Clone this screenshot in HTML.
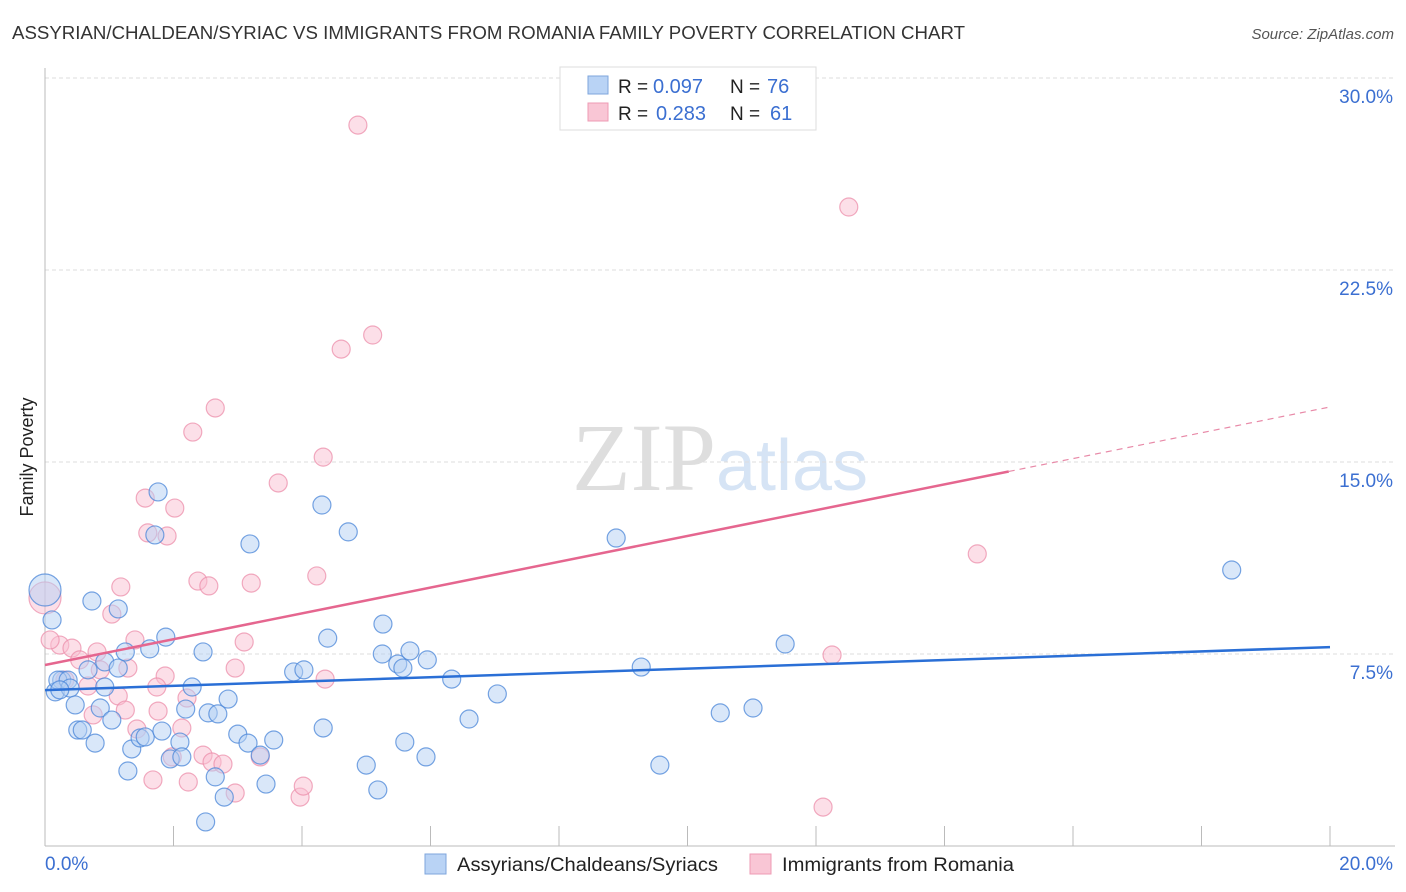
<!DOCTYPE html>
<html><head><meta charset="utf-8"><style>
body{margin:0;background:#fff;width:1406px;height:892px;overflow:hidden;font-family:"Liberation Sans",sans-serif}
svg{display:block}
</style></head><body>
<svg id="chart" width="1406" height="892">
<text x="12" y="39" font-size="18" fill="#333" textLength="953" lengthAdjust="spacingAndGlyphs">ASSYRIAN/CHALDEAN/SYRIAC VS IMMIGRANTS FROM ROMANIA FAMILY POVERTY CORRELATION CHART</text>
<text x="1394" y="39" font-size="15" fill="#555" font-style="italic" text-anchor="end">Source: ZipAtlas.com</text>
<text x="33" y="457" font-size="18" fill="#222" text-anchor="middle" transform="rotate(-90 33 457)">Family Poverty</text>
<text x="720" y="490" font-size="96" fill="#e6e6e6" text-anchor="middle" font-family="Liberation Serif,serif"><tspan fill="#dedede">ZIP</tspan><tspan fill="#d6e4f5" font-family="Liberation Sans,sans-serif" font-size="72">atlas</tspan></text>
<g id="grid"></g><g id="pts"></g><g id="lines"></g>
<g>
<rect x="560" y="67" width="256" height="63" fill="#fff" stroke="#ddd"/>
<rect x="588" y="76" width="20" height="18" fill="#b9d3f5" stroke="#7ea6dc"/>
<rect x="588" y="103" width="20" height="18" fill="#f9c6d5" stroke="#ee9bb4"/>
<text x="618" y="93" font-size="19" fill="#222">R =</text>
<text x="653" y="93" font-size="20" fill="#3b6fd1">0.097</text>
<text x="730" y="93" font-size="19" fill="#222">N =</text>
<text x="767" y="93" font-size="20" fill="#3b6fd1">76</text>
<text x="618" y="120" font-size="19" fill="#222">R =</text>
<text x="656" y="120" font-size="20" fill="#3b6fd1">0.283</text>
<text x="730" y="120" font-size="19" fill="#222">N =</text>
<text x="770" y="120" font-size="20" fill="#3b6fd1">61</text>
</g>
<g>
<rect x="425" y="854" width="21" height="20" fill="#b9d3f5" stroke="#7ea6dc"/>
<text x="457" y="871" font-size="19" fill="#222" textLength="261" lengthAdjust="spacingAndGlyphs">Assyrians/Chaldeans/Syriacs</text>
<rect x="750" y="854" width="21" height="20" fill="#f9c6d5" stroke="#ee9bb4"/>
<text x="782" y="871" font-size="19" fill="#222" textLength="232" lengthAdjust="spacingAndGlyphs">Immigrants from Romania</text>
</g>
</svg>
<script>
const yTicks=[7.5,15,22.5,30];
const yTickLabels=["7.5%","15.0%","22.5%","30.0%"];
const xTicks=[0,2,4,6,8,10,12,14,16,18,20];
const blueX=[0.16,0.26,0.2,0.36,0.39,0.47,0.51,0.58,0.78,0.73,0.67,0.86,0.93,0.93,1.04,1.14,1.14,1.25,1.29,1.35,1.48,1.56,1.63,1.71,1.76,1.82,1.88,1.95,2.1,2.13,2.19,2.29,2.46,2.5,2.54,2.65,2.69,2.79,2.85,3.0,3.16,3.19,3.35,3.44,3.56,3.87,4.03,4.31,4.33,4.4,4.72,5.0,5.18,5.25,5.26,5.49,5.57,5.6,5.68,5.93,5.95,6.33,6.6,7.04,8.89,9.28,9.57,10.51,11.02,11.52,18.47,0.0,0.11,0.23];
const blueY=[6.02,6.48,6.48,6.48,6.17,5.51,4.53,4.53,4.02,9.57,6.88,5.39,7.19,6.21,4.92,9.26,6.95,7.58,2.93,3.79,4.22,4.26,7.7,12.15,13.83,4.49,8.16,3.4,4.06,3.48,5.35,6.21,7.58,0.94,5.2,2.7,5.16,1.91,5.74,4.37,4.02,11.8,3.55,2.42,4.14,6.8,6.88,13.32,4.61,8.12,12.27,3.16,2.19,7.5,8.67,7.11,6.95,4.06,7.62,3.48,7.27,6.52,4.96,5.94,12.03,6.99,3.16,5.2,5.39,7.89,10.78,10.0,8.83,6.1];
const pinkX=[4.87,12.51,5.1,4.61,2.65,2.3,4.33,3.63,1.56,2.02,1.6,1.9,4.23,1.18,2.38,2.55,3.21,0.0,1.04,0.23,0.42,0.81,0.54,1.29,1.87,2.21,1.74,0.67,1.14,1.25,0.75,1.76,1.43,2.13,1.98,2.46,2.6,2.77,3.35,1.68,2.23,2.96,3.97,4.02,3.1,2.96,4.36,12.25,14.51,12.11,0.08,0.31,0.86,1.4];
const pinkY=[28.16,24.96,19.96,19.41,17.11,16.17,15.19,14.18,13.59,13.2,12.23,12.11,10.55,10.12,10.35,10.16,10.27,9.69,9.06,7.85,7.73,7.58,7.27,6.95,6.64,5.78,6.21,6.25,5.86,5.31,5.12,5.27,4.57,4.61,3.48,3.55,3.28,3.2,3.48,2.58,2.5,2.07,1.91,2.34,7.97,6.95,6.52,7.46,11.41,1.52,8.05,6.48,6.88,8.05];
const blueTrend=[6.09,7.77];
const pinkTrend=[7.07,17.15];
const NS="http://www.w3.org/2000/svg";
const sx=v=>45+v*64.25, sy=v=>846-v*25.6;
function mk(t,a,p){const e=document.createElementNS(NS,t);for(const k in a)e.setAttribute(k,a[k]);p.appendChild(e);return e;}
const g=document.getElementById('grid');
yTicks.forEach((t,i)=>{
 const l=mk('line',{x1:45,x2:1395,y1:sy(t),y2:sy(t),stroke:'#ddd','stroke-dasharray':'4,3'},g);
 
 
 const tx=mk('text',{x:1393,y:sy(t)+25,'font-size':19,fill:'#3b6fd1','text-anchor':'end'},g);
 tx.textContent=yTickLabels[i];
 
 
});
const ax=mk('line',{x1:45,x2:1395,y1:846,y2:846,stroke:'#bbb'},g);


const ay=mk('line',{x1:45,x2:45,y1:68,y2:846,stroke:'#bbb'},g);


xTicks.forEach(t=>{
 const l=mk('line',{x1:sx(t),x2:sx(t),y1:826,y2:846,stroke:'#bbb'},g);
 
 
});
const x0=mk('text',{x:45,y:870,'font-size':19,fill:'#3b6fd1'},g);x0.textContent='0.0%';


const x1=mk('text',{x:1393,y:870,'font-size':19,fill:'#3b6fd1','text-anchor':'end'},g);x1.textContent='20.0%';


const p=document.getElementById('pts');
function dots(X,Y,fill,stroke,name){X.forEach((x,i)=>{
 const big=(x===0);
 const c=mk('circle',{cx:sx(x),cy:sy(Y[i]),r:big?16:9,fill:fill,'fill-opacity':0.5,stroke:stroke,'stroke-opacity':0.75,'stroke-width':1.2},p);
 
 
});}
dots(pinkX,pinkY,'#f9c0d1','#ec8fab','pink-point');
dots(blueX,blueY,'#b3cff3','#4a86d8','blue-point');
const L=document.getElementById('lines');
const bl=mk('line',{x1:sx(0),y1:sy(blueTrend[0]),x2:sx(20),y2:sy(blueTrend[1]),stroke:'#2a6fd6','stroke-width':2.5},L);


const pt=v=>pinkTrend[0]+(pinkTrend[1]-pinkTrend[0])*v/20;
const pl=mk('line',{x1:sx(0),y1:sy(pt(0)),x2:sx(15),y2:sy(pt(15)),stroke:'#e5668f','stroke-width':2.5},L);


const pd=mk('line',{x1:sx(15),y1:sy(pt(15)),x2:sx(20),y2:sy(pt(20)),stroke:'#e88aa8','stroke-width':1.2,'stroke-dasharray':'6,5'},L);


</script>
</body></html>
